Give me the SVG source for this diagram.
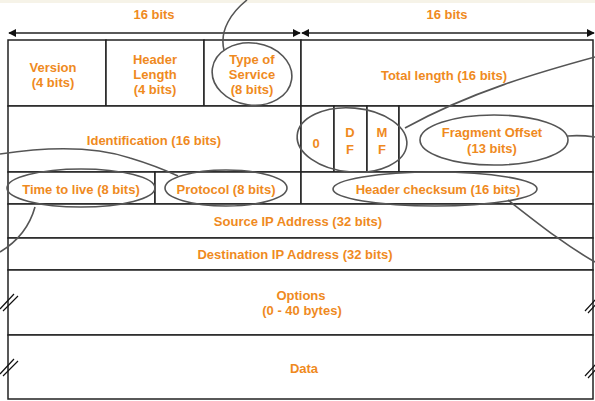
<svg xmlns="http://www.w3.org/2000/svg" width="595" height="401" viewBox="0 0 595 401">
<defs>
<marker id="ah" viewBox="0 0 10 10" refX="9" refY="5" markerWidth="8" markerHeight="8" markerUnits="userSpaceOnUse" orient="auto-start-reverse">
<path d="M0,0 L10,5 L0,10 Z" fill="#111"/>
</marker>
<style>
.cell{fill:#fff;stroke:#222;stroke-width:1.5}
.t{font-family:"Liberation Sans",Arial,sans-serif;font-size:13px;font-weight:bold;fill:#ef8a1e;text-anchor:middle}
.arr{stroke:#222;stroke-width:1.5;fill:none}
.ann{stroke:#555;stroke-width:1.6;fill:none}
.brk{stroke:#111;stroke-width:1.2;fill:none}
</style>
</defs>
<rect x="0" y="0" width="595" height="401" fill="#fff"/>
<rect x="0" y="0" width="595" height="3" fill="#f6f3e8"/>
<g id="header-labels">
<text class="t" x="154" y="18.5">16 bits</text>
<text class="t" x="447" y="18.5">16 bits</text>
</g>
<g id="version"><rect class="cell" x="8" y="40" width="98" height="66"/><text class="t" x="53" y="71.5">Version</text><text class="t" x="53" y="86.5">(4 bits)</text></g>
<g id="header-length"><rect class="cell" x="106" y="40" width="98" height="66"/><text class="t" x="155" y="63.5">Header</text><text class="t" x="155" y="78.5">Length</text><text class="t" x="155" y="93.5">(4 bits)</text></g>
<g id="type-of-service"><rect class="cell" x="204" y="40" width="97" height="66"/><text class="t" x="252" y="63.5">Type of</text><text class="t" x="252" y="78.5">Service</text><text class="t" x="252" y="93.5">(8 bits)</text></g>
<g id="total-length"><rect class="cell" x="301" y="40" width="292" height="66"/><text class="t" x="444" y="79.5">Total length (16 bits)</text></g>
<g id="identification"><rect class="cell" x="8" y="106" width="293" height="66"/><text class="t" x="154" y="144.5">Identification (16 bits)</text></g>
<g id="flag-zero"><rect class="cell" x="301" y="106" width="33" height="66"/><text class="t" x="316" y="147.5">0</text></g>
<g id="flag-df"><rect class="cell" x="334" y="106" width="33" height="66"/><text class="t" x="350" y="137">D</text><text class="t" x="350" y="153.5">F</text></g>
<g id="flag-mf"><rect class="cell" x="367" y="106" width="32" height="66"/><text class="t" x="382" y="137">M</text><text class="t" x="382" y="153.5">F</text></g>
<g id="fragment-offset"><rect class="cell" x="399" y="106" width="194" height="66"/><text class="t" x="492" y="137">Fragment Offset</text><text class="t" x="492" y="152.5">(13 bits)</text></g>
<g id="time-to-live"><rect class="cell" x="8" y="172" width="147" height="32"/><text class="t" x="81" y="193.5">Time to live (8 bits)</text></g>
<g id="protocol"><rect class="cell" x="155" y="172" width="146" height="32"/><text class="t" x="226" y="193.5">Protocol (8 bits)</text></g>
<g id="header-checksum"><rect class="cell" x="301" y="172" width="292" height="32"/><text class="t" x="438" y="193.5">Header checksum (16 bits)</text></g>
<g id="source-ip"><rect class="cell" x="8" y="204" width="585" height="34"/><text class="t" x="298" y="226">Source IP Address (32 bits)</text></g>
<g id="destination-ip"><rect class="cell" x="8" y="238" width="585" height="32"/><text class="t" x="295" y="258.5">Destination IP Address (32 bits)</text></g>
<g id="options"><rect class="cell" x="8" y="270" width="585" height="65"/><text class="t" x="301" y="299.5">Options</text><text class="t" x="302" y="314.5">(0 - 40 bytes)</text></g>
<g id="data"><rect class="cell" x="8" y="335" width="585" height="64"/><text class="t" x="304" y="372.5">Data</text></g>
<g id="connectors">
<line class="arr" x1="9" y1="33" x2="300" y2="33" marker-start="url(#ah)" marker-end="url(#ah)"/>
<line class="arr" x1="302" y1="33" x2="594" y2="33" marker-start="url(#ah)" marker-end="url(#ah)"/>
</g>
<g id="annotations">
<path class="ann" d="M247,0 C232,12 219,30 224,50"/>
<ellipse class="ann" cx="252" cy="74" rx="40" ry="31" transform="rotate(8 252 74)"/>
<path class="ann" d="M595,57 C540,72 470,92 405,128"/>
<ellipse class="ann" cx="352" cy="140" rx="55" ry="32" transform="rotate(5 352 140)"/>
<ellipse class="ann" cx="494" cy="140" rx="74" ry="25"/>
<path class="ann" d="M568,136 C578,135 588,136 595,137"/>
<ellipse class="ann" cx="435" cy="189" rx="102" ry="17"/>
<path class="ann" d="M508,200 C540,225 565,245 595,262"/>
<ellipse class="ann" cx="81" cy="188" rx="74" ry="19"/>
<path class="ann" d="M35,207 C30,225 20,240 0,252"/>
<ellipse class="ann" cx="226" cy="188" rx="61" ry="18"/>
<path class="ann" d="M0,154 C40,148 90,145 130,158 C150,164 165,170 178,176"/>
</g>
<g id="break-marks">
<path class="brk" d="M0,309 L14,294 M3,311 L18,296"/>
<path class="brk" d="M0,374 L14,359 M3,376 L18,361"/>
<path class="brk" d="M585,311 L597,298 M588,313 L600,300"/>
<path class="brk" d="M585,376 L597,363 M588,378 L600,365"/>
</g>
</svg>
